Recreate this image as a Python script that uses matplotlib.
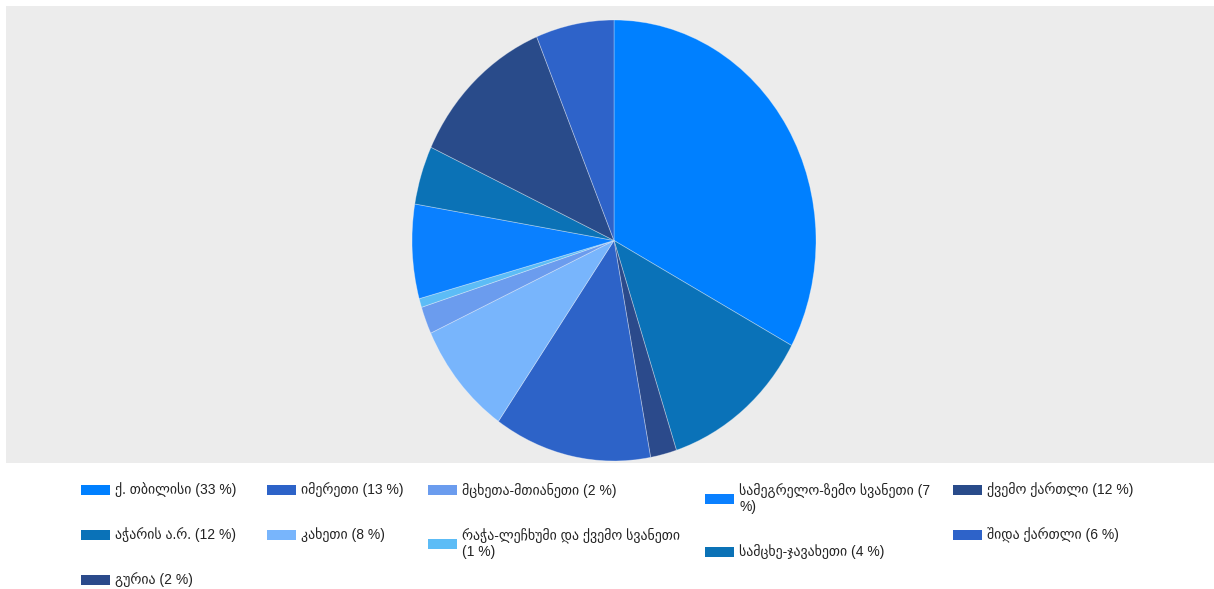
import matplotlib
matplotlib.use("Agg")
import matplotlib.pyplot as plt
from matplotlib.patches import Rectangle

# ---- data (pie order, clockwise from top) ----
regions = [
    "ქ. თბილისი",
    "აჭარის ა.რ.",
    "გურია",
    "იმერეთი",
    "კახეთი",
    "მცხეთა-მთიანეთი",
    "რაჭა-ლეჩხუმი და ქვემო სვანეთი",
    "სამეგრელო-ზემო სვანეთი",
    "სამცხე-ჯავახეთი",
    "ქვემო ქართლი",
    "შიდა ქართლი",
]
shares = [32.9, 12.1, 2.1, 12.6, 8.4, 2.0, 0.65, 6.9, 4.3, 11.8, 6.25]
colors = ["#0080ff", "#0a72b8", "#2b4a8b", "#2d63c8", "#78b5fc", "#6b9cee",
          "#5cbcf6", "#0a80ff", "#0b72b6", "#294b8a", "#2e63c9"]

# ---- layout ----
W, H = 1214, 589
def fx(px): return px / W
def fy(py): return 1 - py / H

fig = plt.figure(figsize=(W / 100, H / 100), dpi=100)
fig.patch.set_facecolor("white")

# grey chart area
fig.add_artist(Rectangle((fx(6), fy(463)), fx(1214) - fx(6), fy(6) - fy(463),
                         transform=fig.transFigure, facecolor="#ececec",
                         edgecolor="none", zorder=0))

ax = fig.add_axes([fx(412), fy(461), (816 - 412) / W, (461 - 20) / H])
ax.pie(shares, colors=colors, startangle=90, counterclock=False,
       wedgeprops=dict(linewidth=0.6, edgecolor=(1, 1, 1, 0.35)))
ax.set_aspect("auto")
ax.set_xlim(-1, 1)
ax.set_ylim(-1, 1)
ax.axis("off")
ax.patch.set_alpha(0)

# legend labels
labels = [f"{n} ({int(v + 0.5)} %)" for n, v in zip(regions, shares)]
breaks = {6: "სვანეთი ", 7: "(7 "}
for i, tok in breaks.items():
    labels[i] = labels[i].replace(tok, tok.rstrip() + "\n", 1)

col_x = [81, 267, 428, 705, 953]
col_sizes = [3, 2, 2, 2, 2]
row_top = 490
step = 45
line_h = 17
font = ["Liberation Sans", "DejaVu Sans"]

idx = 0
for cx, n in zip(col_x, col_sizes):
    y = row_top
    for _ in range(n):
        lab = labels[idx]
        nl = lab.count("\n") + 1
        cy = y + (nl - 1) * line_h / 2
        fig.add_artist(Rectangle((fx(cx), fy(cy + 5)), 29 / W, 10 / H,
                                 transform=fig.transFigure,
                                 facecolor=colors[idx], edgecolor="none"))
        fig.text(fx(cx + 34), fy(cy), lab, va="center", ha="left",
                 fontsize=10, color="#222222", family=font, linespacing=1.15)
        y = y + (nl - 1) * line_h + step
        idx += 1

fig.savefig("out.png", dpi=100)
